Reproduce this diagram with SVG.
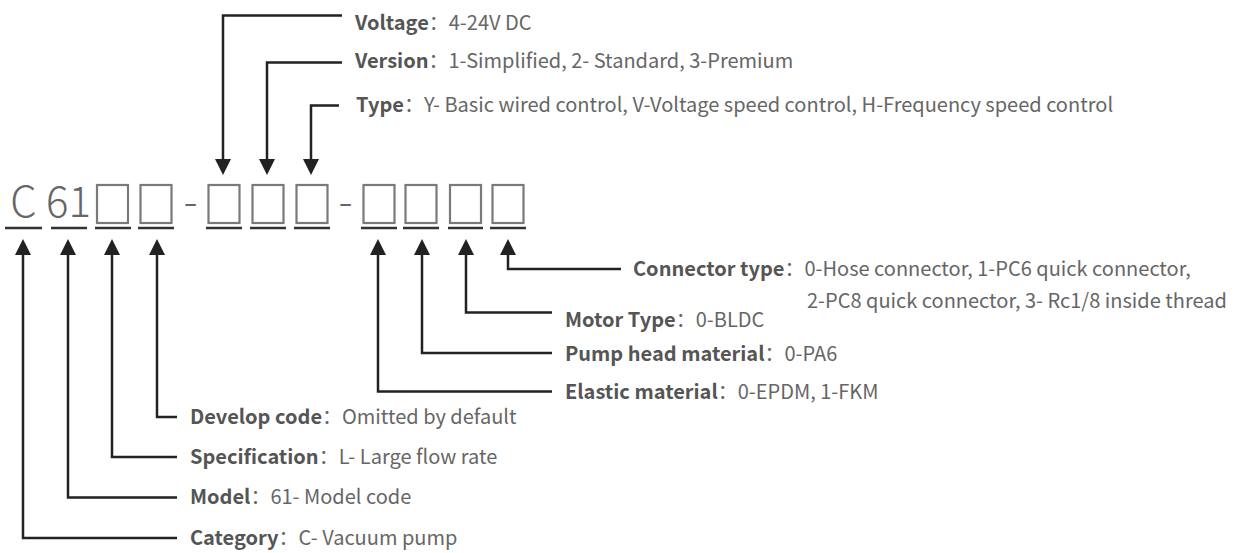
<svg xmlns="http://www.w3.org/2000/svg" width="1241" height="553" viewBox="0 0 1241 553">
<defs>
<style>
.lbl{font-family:"Noto Sans CJK SC","Noto Sans",sans-serif;font-size:20px;fill:#666;}
.b{font-weight:bold;fill:#555;}
.code{font-family:"Noto Sans CJK SC","Noto Sans",sans-serif;font-size:42px;font-weight:300;fill:#666;}
.box{fill:none;stroke:#7a7a7a;stroke-width:2.2;}
.ul{stroke:#333;stroke-width:2.5;}
.con{fill:none;stroke:#222;stroke-width:2.5;}
</style>
<marker id="ah" markerUnits="userSpaceOnUse" markerWidth="16" markerHeight="16" refX="0" refY="8" orient="auto" viewBox="0 0 16 16">
<path d="M0,0 L16,8 L0,16 z" fill="#222"/>
</marker>
</defs>
<rect width="1241" height="553" fill="#fff"/>
<g id="code">
<text class="code" x="23.5" y="217" text-anchor="middle">C</text>
<text class="code" x="68.5" y="217" text-anchor="middle">61</text>
<text class="code" x="190.5" y="217" text-anchor="middle">-</text>
<text class="code" x="345.5" y="217" text-anchor="middle">-</text>
<rect class="box" x="97" y="185" width="31" height="38"/>
<rect class="box" x="140.5" y="185" width="31" height="38"/>
<rect class="box" x="208.5" y="185" width="31" height="38"/>
<rect class="box" x="252.5" y="185" width="31" height="38"/>
<rect class="box" x="296.5" y="185" width="31" height="38"/>
<rect class="box" x="363.5" y="185" width="31" height="38"/>
<rect class="box" x="405.5" y="185" width="31" height="38"/>
<rect class="box" x="450" y="185" width="31" height="38"/>
<rect class="box" x="492.5" y="185" width="31" height="38"/>
<line class="ul" x1="5" y1="228" x2="42" y2="228"/>
<line class="ul" x1="51" y1="228" x2="87" y2="228"/>
<line class="ul" x1="95" y1="228" x2="131" y2="228"/>
<line class="ul" x1="138" y1="228" x2="174" y2="228"/>
<line class="ul" x1="206" y1="228" x2="242" y2="228"/>
<line class="ul" x1="250" y1="228" x2="286" y2="228"/>
<line class="ul" x1="294" y1="228" x2="330" y2="228"/>
<line class="ul" x1="361" y1="228" x2="397" y2="228"/>
<line class="ul" x1="403" y1="228" x2="439" y2="228"/>
<line class="ul" x1="448" y1="228" x2="483" y2="228"/>
<line class="ul" x1="490" y1="228" x2="526" y2="228"/>
</g>
<g id="connectors">
<path class="con" d="M342,15.5 H223 V159" marker-end="url(#ah)"/>
<path class="con" d="M342,62.5 H267 V159" marker-end="url(#ah)"/>
<path class="con" d="M339,105.5 H311 V159" marker-end="url(#ah)"/>
<path class="con" d="M621,269 H508 V255" marker-end="url(#ah)"/>
<path class="con" d="M552,312.5 H466 V255" marker-end="url(#ah)"/>
<path class="con" d="M552,353 H422 V255" marker-end="url(#ah)"/>
<path class="con" d="M552,391.5 H378 V255" marker-end="url(#ah)"/>
<path class="con" d="M177,417 H157 V255" marker-end="url(#ah)"/>
<path class="con" d="M177,457 H112 V255" marker-end="url(#ah)"/>
<path class="con" d="M177,497.5 H68 V255" marker-end="url(#ah)"/>
<path class="con" d="M177,538 H23 V255" marker-end="url(#ah)"/>
</g>
<g id="voltage"><text class="lbl" x="355" y="29.5"><tspan class="b">Voltage</tspan>：4-24V DC</text></g>
<g id="version"><text class="lbl" x="355" y="68"><tspan class="b">Version</tspan>：1-Simplified, 2- Standard, 3-Premium</text></g>
<g id="type"><text class="lbl" x="356" y="112"><tspan class="b">Type</tspan>：Y- Basic wired control, V-Voltage speed control, H-Frequency speed control</text></g>
<g id="connector-type"><text class="lbl" x="633" y="276"><tspan class="b">Connector type</tspan>：0-Hose connector, 1-PC6 quick connector,</text>
<text class="lbl" x="807" y="308">2-PC8 quick connector, 3- Rc1/8 inside thread</text></g>
<g id="motor-type"><text class="lbl" x="565" y="327"><tspan class="b">Motor Type</tspan>：0-BLDC</text></g>
<g id="pump-head"><text class="lbl" x="565" y="361"><tspan class="b">Pump head material</tspan>：0-PA6</text></g>
<g id="elastic"><text class="lbl" x="565" y="399"><tspan class="b">Elastic material</tspan>：0-EPDM, 1-FKM</text></g>
<g id="develop"><text class="lbl" x="190" y="423.5"><tspan class="b">Develop code</tspan>：Omitted by default</text></g>
<g id="spec"><text class="lbl" x="190" y="464"><tspan class="b">Specification</tspan>：L- Large flow rate</text></g>
<g id="model"><text class="lbl" x="190" y="504"><tspan class="b">Model</tspan>：61- Model code</text></g>
<g id="category"><text class="lbl" x="190" y="545"><tspan class="b">Category</tspan>：C- Vacuum pump</text></g>
</svg>
